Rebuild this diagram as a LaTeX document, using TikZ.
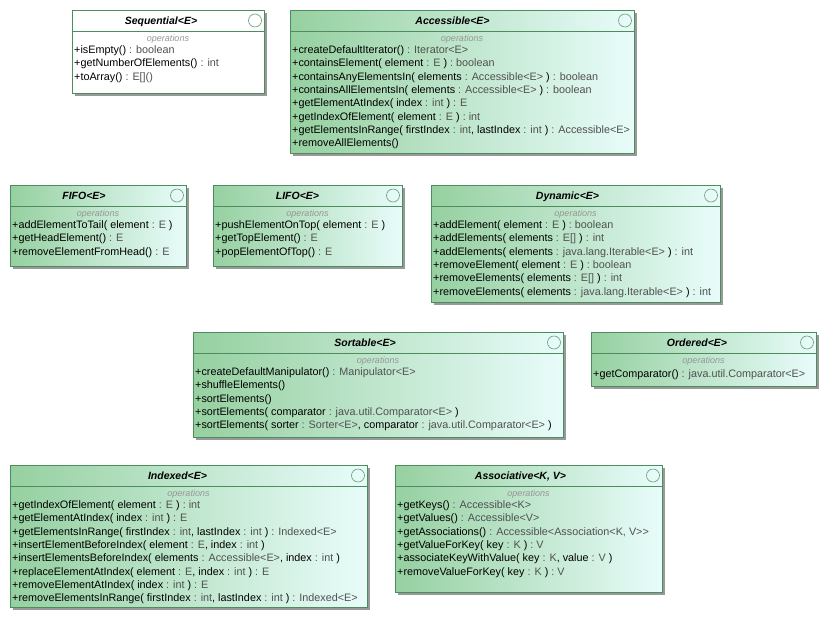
\documentclass[tikz,border=0pt]{standalone}
\usepackage{fontspec}
\setmainfont{Liberation Sans}
\usepackage{tikz}
\usetikzlibrary{shadows}

\definecolor{ifborder}{RGB}{77,140,92}
\definecolor{ifgreen}{RGB}{150,208,160}
\definecolor{ifcyan}{RGB}{232,252,250}
\definecolor{tygray}{RGB}{80,80,80}
\definecolor{opsgray}{RGB}{150,150,150}
\newcommand{\ty}[1]{\textcolor{tygray}{#1}}

\begin{document}
\begin{tikzpicture}
  [x=1pt, y=-1pt,
   ifshadow/.style={drop shadow={shadow xshift=2.5pt, shadow yshift=-2.5pt, opacity=.4, fill=black}},
   ifbox/.style={draw=ifborder, line width=.9pt, left color=ifgreen, right color=ifcyan, ifshadow},
   ifplain/.style={draw=ifborder, line width=.9pt, fill=white, ifshadow},
   ifsep/.style={draw=ifborder, line width=.9pt},
   ifcirc/.style={draw=ifborder!85, line width=.6pt},
   iftitle/.style={anchor=base, inner sep=0pt, font=\fontsize{10.5}{12}\selectfont\bfseries\itshape},
   ifops/.style={anchor=base, inner sep=0pt, text=opsgray, font=\fontsize{9}{11}\selectfont\itshape},
   iflist/.style={anchor=north west, inner sep=0pt, align=left, font=\fontsize{10.8}{13.3}\selectfont, execute at begin node=\strut}]
  \fill[white] (0,0) rectangle (825,619);
  \useasboundingbox (0,0) rectangle (825,619);

  % boxes
  \draw[ifplain] (72,10) rectangle (264,93);
  \foreach \l/\t/\r/\b in {290/10/634/153, 10/185/186/266, 213/185/402/266, 431/185/720/302,
                           193/332/563/437, 591/332/816/386, 10/465/367/607, 395/465/662/592}
    \draw[ifbox] (\l,\t) rectangle (\r,\b);
  % header lines and circles
  \foreach \l/\t/\r in {72/10/264, 290/10/634, 10/185/186, 213/185/402, 431/185/720,
                        193/332/563, 591/332/816, 10/465/367, 395/465/662}
  {
    \draw[ifsep] (\l,\t+21) -- (\r,\t+21);
    \draw[ifcirc] (\r-9,\t+10.5) circle (6.5);
  }

  \node[iftitle] (seq) at (161,24) {Sequential<E>};
  \node[ifops] (seq-ops) at (168,41.5) {operations};
  \node[iflist] (seq-list) at (74,45.6) {+isEmpty() \ty{: boolean}\\
    +getNumberOfElements() \ty{: int}\\
    +toArray() \ty{: E[]()}};

  \node[iftitle] (acc) at (452.5,24) {Accessible<E>};
  \node[ifops] (acc-ops) at (462,41.5) {operations};
  \node[iflist] (acc-list) at (292,45.6) {+createDefaultIterator() \ty{: Iterator<E>}\\
    +containsElement( element \ty{: E} ) \ty{: boolean}\\
    +containsAnyElementsIn( elements \ty{: Accessible<E>} ) \ty{: boolean}\\
    +containsAllElementsIn( elements \ty{: Accessible<E>} ) \ty{: boolean}\\
    +getElementAtIndex( index \ty{: int} ) \ty{: E}\\
    +getIndexOfElement( element \ty{: E} ) \ty{: int}\\
    +getElementsInRange( firstIndex \ty{: int}, lastIndex \ty{: int} ) \ty{: Accessible<E>}\\
    +removeAllElements()};

  \node[iftitle] (fifo) at (84,199) {FIFO<E>};
  \node[ifops] (fifo-ops) at (98,216.5) {operations};
  \node[iflist] (fifo-list) at (12,220.6) {+addElementToTail( element \ty{: E} )\\
    +getHeadElement() \ty{: E}\\
    +removeElementFromHead() \ty{: E}};

  \node[iftitle] (lifo) at (297.5,199) {LIFO<E>};
  \node[ifops] (lifo-ops) at (307.5,216.5) {operations};
  \node[iflist] (lifo-list) at (215,220.6) {+pushElementOnTop( element \ty{: E} )\\
    +getTopElement() \ty{: E}\\
    +popElementOfTop() \ty{: E}};

  \node[iftitle] (dyn) at (567.5,199) {Dynamic<E>};
  \node[ifops] (dyn-ops) at (575.5,216.5) {operations};
  \node[iflist] (dyn-list) at (433,220.6) {+addElement( element \ty{: E} ) \ty{: boolean}\\
    +addElements( elements \ty{: E[]} ) \ty{: int}\\
    +addElements( elements \ty{: java.lang.Iterable<E>} ) \ty{: int}\\
    +removeElement( element \ty{: E} ) \ty{: boolean}\\
    +removeElements( elements \ty{: E[]} ) \ty{: int}\\
    +removeElements( elements \ty{: java.lang.Iterable<E>} ) \ty{: int}};

  \node[iftitle] (sort) at (365,346) {Sortable<E>};
  \node[ifops] (sort-ops) at (378,363.5) {operations};
  \node[iflist] (sort-list) at (195,367.6) {+createDefaultManipulator() \ty{: Manipulator<E>}\\
    +shuffleElements()\\
    +sortElements()\\
    +sortElements( comparator \ty{: java.util.Comparator<E>} )\\
    +sortElements( sorter \ty{: Sorter<E>}, comparator \ty{: java.util.Comparator<E>} )};

  \node[iftitle] (ord) at (697,346) {Ordered<E>};
  \node[ifops] (ord-ops) at (703.5,363.5) {operations};
  \node[iflist] (ord-list) at (593,367.6) {+getComparator() \ty{: java.util.Comparator<E>}};

  \node[iftitle] (idx) at (177.5,479) {Indexed<E>};
  \node[ifops] (idx-ops) at (188.5,496.5) {operations};
  \node[iflist] (idx-list) at (12,500.6) {+getIndexOfElement( element \ty{: E} ) \ty{: int}\\
    +getElementAtIndex( index \ty{: int} ) \ty{: E}\\
    +getElementsInRange( firstIndex \ty{: int}, lastIndex \ty{: int} ) \ty{: Indexed<E>}\\
    +insertElementBeforeIndex( element \ty{: E}, index \ty{: int} )\\
    +insertElementsBeforeIndex( elements \ty{: Accessible<E>}, index \ty{: int} )\\
    +replaceElementAtIndex( element \ty{: E}, index \ty{: int} ) \ty{: E}\\
    +removeElementAtIndex( index \ty{: int} ) \ty{: E}\\
    +removeElementsInRange( firstIndex \ty{: int}, lastIndex \ty{: int} ) \ty{: Indexed<E>}};

  \node[iftitle] (asc) at (520.5,479) {Associative<K, V>};
  \node[ifops] (asc-ops) at (528.5,496.5) {operations};
  \node[iflist] (asc-list) at (397,500.6) {+getKeys() \ty{: Accessible<K>}\\
    +getValues() \ty{: Accessible<V>}\\
    +getAssociations() \ty{: Accessible<Association<K, V>{}>}\\
    +getValueForKey( key \ty{: K} ) \ty{: V}\\
    +associateKeyWithValue( key \ty{: K}, value \ty{: V} )\\
    +removeValueForKey( key \ty{: K} ) \ty{: V}};
\end{tikzpicture}
\end{document}
